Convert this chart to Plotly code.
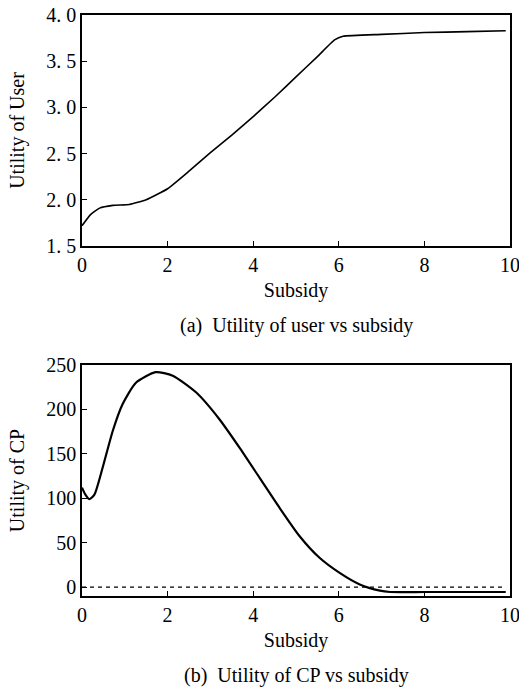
import plotly.graph_objects as go

# ---- data ----
user_x = [0, 0.2, 0.41, 0.72, 1.11, 1.5, 2.0, 2.5, 3.0, 3.5, 4.0, 4.5, 5.0, 5.5, 5.9, 6.1, 7.0, 8.0, 9.0, 9.9]
user_y = [1.72, 1.84, 1.91, 1.94, 1.95, 2.00, 2.12, 2.31, 2.51, 2.70, 2.90, 3.11, 3.33, 3.55, 3.73, 3.77, 3.79, 3.81, 3.82, 3.83]

cp_x = [0, 0.08, 0.17, 0.29, 0.48, 0.72, 0.95, 1.26, 1.72, 2.12, 2.67, 3.21, 3.68, 4.15, 4.62, 5.09, 5.55, 6.02, 6.49, 6.96, 7.2, 8.0, 9.0, 9.9]
cp_y = [112, 104, 99, 104, 134, 176, 206, 230, 242, 238, 219, 189, 157, 123, 89, 57, 33, 16, 3, -4, -5.5, -5.5, -5.5, -5.5]

zero_x = [0, 9.9]
zero_y = [0, 0]

x_ticks = [0, 2, 4, 6, 8, 10]
user_ticks = [1.5, 2.0, 2.5, 3.0, 3.5, 4.0]
user_ticktext = ["1. 5", "2. 0", "2. 5", "3. 0", "3. 5", "4. 0"]
cp_ticks = [0, 50, 100, 150, 200, 250]

W, H = 519, 688
FONT = "Liberation Serif"

fig = go.Figure()
fig.add_trace(go.Scatter(x=user_x, y=user_y, mode="lines", line=dict(color="black", width=1.6, shape="spline", smoothing=0.4),
                         xaxis="x", yaxis="y", showlegend=False))
fig.add_trace(go.Scatter(x=cp_x, y=cp_y, mode="lines", line=dict(color="black", width=2.2, shape="spline", smoothing=0.6),
                         xaxis="x2", yaxis="y2", showlegend=False))
fig.add_trace(go.Scatter(x=zero_x, y=zero_y, mode="lines", line=dict(color="black", width=1.4, dash="4px,4px"),
                         xaxis="x2", yaxis="y2", showlegend=False))

axis_common = dict(showline=True, mirror=True, linecolor="black", linewidth=1.6, ticks="inside", ticklen=5,
                   tickwidth=1.4, tickcolor="black", showgrid=False, zeroline=False, automargin=False,
                   ticklabeloverflow="allow",
                   tickfont=dict(family=FONT, size=20, color="black"))

xd = [82 / W, 510 / W]
top_dom = [1 - 246 / H, 1 - 15 / H]
bot_dom = [1 - 596 / H, 1 - 365 / H]

fig.update_layout(
    width=W, height=H, margin=dict(l=0, r=0, t=0, b=0, autoexpand=False),
    paper_bgcolor="white", plot_bgcolor="white",
    font=dict(family=FONT, size=20, color="black"),
    xaxis=dict(domain=xd, anchor="y", range=[0, 10], tickvals=x_ticks,
               title=dict(text="Subsidy", standoff=8, font=dict(family=FONT, size=20)), **axis_common),
    yaxis=dict(domain=top_dom, anchor="x", range=[1.5, 4.0], tickvals=user_ticks, ticktext=user_ticktext,
               title=dict(text="Utility of User", standoff=16, font=dict(family=FONT, size=20)), **axis_common),
    xaxis2=dict(domain=xd, anchor="y2", range=[0, 10], tickvals=x_ticks,
                title=dict(text="Subsidy", standoff=8, font=dict(family=FONT, size=20)), **axis_common),
    yaxis2=dict(domain=bot_dom, anchor="x2", range=[-10, 250], tickvals=cp_ticks,
                title=dict(text="Utility of CP", standoff=16, font=dict(family=FONT, size=20)), **axis_common),
    annotations=[
        dict(text="(a)&nbsp;&nbsp;Utility of user vs subsidy", x=296 / W, y=1 - 325 / H, xref="paper", yref="paper",
             showarrow=False, xanchor="center", yanchor="middle", font=dict(family=FONT, size=20)),
        dict(text="(b)&nbsp;&nbsp;Utility of CP vs subsidy", x=296 / W, y=1 - 675 / H, xref="paper", yref="paper",
             showarrow=False, xanchor="center", yanchor="middle", font=dict(family=FONT, size=20)),
    ],
)

fig.write_html("out.html", config={"displayModeBar": False},
               post_script="document.body.style.margin='0';document.body.style.padding='0';"
                           "document.body.style.overflow='hidden';")
